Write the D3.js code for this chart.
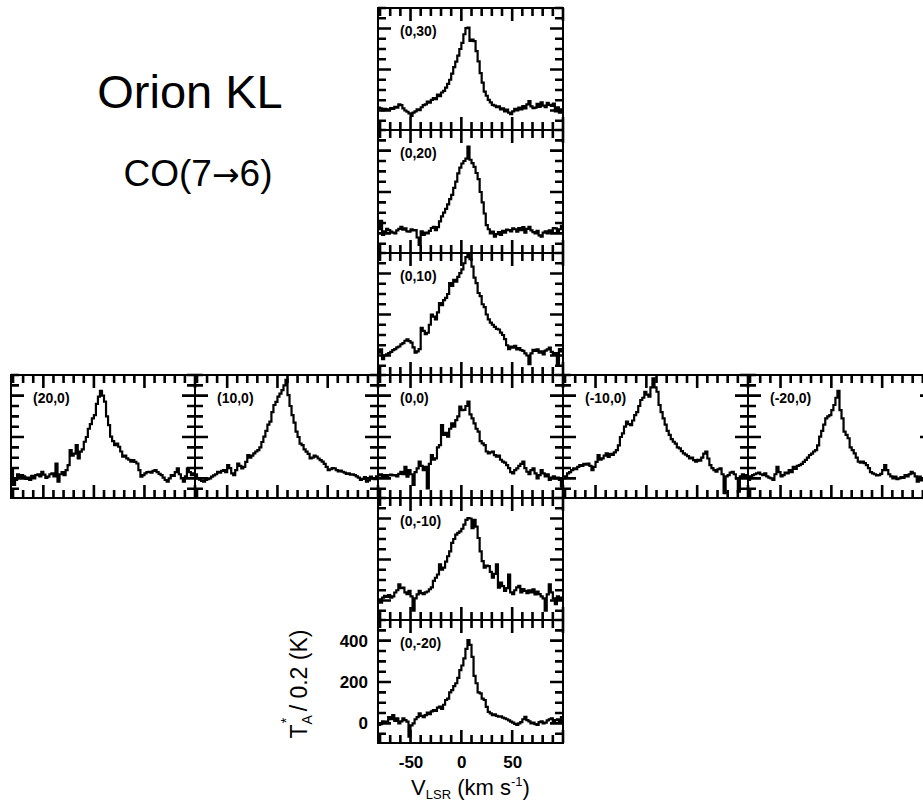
<!DOCTYPE html>
<html>
<head>
<meta charset="utf-8">
<script src="https://cdn.jsdelivr.net/npm/d3@7"></script>
<style>
  html, body { margin: 0; background: #fff; }
  svg { display: block; }
  text { font-family: "Liberation Sans", Arial, Helvetica, sans-serif; fill: #000; }
</style>
</head>
<body>
<svg id="chart" width="923" height="803"></svg>
<script>
// LSR velocity channel centres (km/s)
const channels = [
  -81, -79, -77, -75, -73, -71, -69, -67, -65, -63,
  -61, -59, -57, -55, -53, -51, -49, -47, -45, -43,
  -41, -39, -37, -35, -33, -31, -29, -27, -25, -23,
  -21, -19, -17, -15, -13, -11, -9, -7, -5, -3,
  -1, 1, 3, 5, 7, 9, 11, 13, 15, 17,
  19, 21, 23, 25, 27, 29, 31, 33, 35, 37,
  39, 41, 43, 45, 47, 49, 51, 53, 55, 57,
  59, 61, 63, 65, 67, 69, 71, 73, 75, 77,
  79, 81, 83, 85, 87, 89, 91, 93, 95, 97,
  99
];

// CO(7-6) antenna temperature, T_A*/0.2 (K), one spectrum per map offset
const spec_0_30 = [
  14, 10, 0, 8, 4, 6, 12, 8, 18, 14,
  30, 26, 10, 0, -6, -14, -26, -10, -4, 6,
  2, 16, 26, 30, 44, 38, 52, 60, 56, 78,
  70, 88, 96, 112, 130, 150, 180, 212, 238, 268,
  300, 330, 372, 402, 404, 340, 346, 338, 290, 240,
  182, 136, 92, 72, 52, 40, 28, 24, 16, 20,
  6, 10, -4, 4, -10, -18, -4, 8, 0, 14,
  6, 22, 10, 30, 46, 20, 12, 14, 32, 18,
  40, 24, 16, 38, 28, 22, 34, -4, 16, -10,
  6
];
const spec_0_20 = [
  20, 60, -8, 10, 22, 16, 8, 4, 0, 14,
  22, 32, 18, 24, 10, 8, 20, 14, 16, -20,
  -56, 10, -8, 4, 0, 12, 26, 32, 16, 30,
  58, 82, 100, 118, 140, 166, 186, 220, 250, 290,
  318, 338, 350, 362, 420, 356, 340, 322, 292, 262,
  200, 150, 96, 40, 20, 0, 8, -16, -4, 6,
  -8, 12, 4, 18, 16, 10, 24, 20, 8, 26,
  16, 30, 4, 22, 32, 14, 6, 0, 12, -10,
  -16, 4, 10, 0, 14, 8, 26, 24, 6, 20,
  36
];
const spec_0_10 = [
  14, 30, -18, 0, 6, 12, 18, 26, 31, 40,
  44, 55, 60, 72, 79, 70, 63, 40, 14, 20,
  31, 135, 120, 104, 111, 150, 200, 190, 176, 210,
  256, 246, 270, 281, 300, 353, 340, 369, 360, 384,
  402, 420, 450, 480, 498, 470, 434, 380, 353, 305,
  290, 250, 236, 200, 176, 160, 150, 140, 130, 127,
  112, 100, 80, 50, 31, 44, 38, 47, 30, 36,
  26, 23, 10, 0, -42, 10, 28, 23, 30, 14,
  20, 6, 24, 30, 39, 18, 6, 12, -42, 31,
  20
];
const spec_20_0 = [
  48, -32, -8, 20, 6, 16, 10, -2, 4, -8,
  12, 0, 16, 20, 10, 32, 18, 2, 8, 20,
  24, 10, 72, -16, 20, 30, 16, 40, 64, 137,
  110, 120, 161, 97, 129, 140, 177, 200, 240, 262,
  290, 306, 360, 395, 423, 400, 371, 300, 258, 202,
  180, 161, 168, 153, 130, 105, 110, 97, 90, 81,
  88, 80, 72, 40, 8, 16, 24, 30, 32, 28,
  36, 40, 30, 22, 16, 4, -8, -16, 0, 16,
  12, 30, 48, 20, 0, -16, 10, 48, 30, 16,
  24
];
const spec_10_0 = [
  20, 0, -6, -12, -16, -8, -4, 0, 8, 14,
  20, 32, 28, 36, 40, 30, 64, 50, 24, 16,
  40, 72, 60, 48, 56, 80, 113, 100, 110, 121,
  130, 137, 150, 176, 202, 230, 260, 274, 320, 355,
  370, 395, 410, 427, 450, 476, 403, 350, 306, 270,
  226, 200, 168, 161, 140, 129, 118, 97, 100, 110,
  105, 96, 88, 81, 70, 56, 40, 44, 50, 48,
  40, 34, 38, 32, 28, 22, 24, 18, 20, 16,
  10, 4, -8, -2, 6, -16, -10, 8, 0, -4,
  10
];
const spec_0_0 = [
  14, 20, 8, 16, 12, 16, 18, 14, 16, 10,
  22, 32, 20, 56, 8, 40, 20, -32, 30, 48,
  81, 60, 40, 56, -48, 70, 113, 90, 97, 150,
  161, 258, 210, 220, 202, 240, 266, 250, 282, 300,
  347, 330, 331, 350, 371, 310, 290, 266, 240, 226,
  180, 169, 161, 130, 121, 126, 129, 112, 105, 110,
  90, 81, 76, 64, 50, 30, 24, 40, 48, 60,
  70, 81, 50, 32, 20, 40, 48, 24, 0, 16,
  40, 24, 10, 20, -8, 4, 10, 0, 4, -8,
  -40
];
const spec_m10_0 = [
  0, 10, 24, 30, 40, 48, 44, 56, 64, 60,
  70, 66, 72, 60, 40, 56, 80, 113, 90, 97,
  110, 121, 104, 118, 113, 126, 137, 160, 200, 218,
  250, 274, 262, 258, 280, 306, 320, 350, 379, 390,
  419, 405, 395, 440, 484, 440, 419, 355, 320, 290,
  260, 230, 210, 190, 177, 168, 150, 145, 132, 121,
  115, 108, 97, 100, 88, 81, 90, 86, 100, 120,
  129, 96, 64, 50, 40, 32, 44, 48, 20, -72,
  10, 16, 28, 32, 20, 0, -64, 10, 20, 8,
  16
];
const spec_m20_0 = [
  -8, 10, 16, 20, 24, 28, 20, 16, 24, 10,
  4, 0, -8, 20, 56, 30, 10, 16, 28, 24,
  40, 30, 56, 46, 60, 64, 70, 80, 89, 100,
  113, 120, 130, 137, 160, 202, 230, 260, 290, 300,
  306, 330, 355, 390, 423, 330, 290, 226, 210, 194,
  150, 137, 121, 100, 81, 76, 81, 74, 64, 50,
  30, 24, 20, 14, 16, 22, 40, 64, 40, 20,
  10, 0, 8, -4, 0, 6, 2, 16, 10, 20,
  32, 24, 10, -16, 8, -10, 0, 6, -4, 10,
  4
];
const spec_0_m10 = [
  6, -10, 14, 23, 18, 26, 14, 20, 39, 50,
  79, 60, 63, 40, 31, 47, 20, -50, 10, 30,
  47, 36, 31, 40, 44, 55, 64, 96, 111, 127,
  176, 150, 160, 190, 216, 240, 281, 300, 321, 330,
  337, 350, 370, 393, 402, 400, 353, 393, 360, 305,
  240, 192, 160, 170, 168, 140, 111, 130, 176, 63,
  87, 70, 47, 60, 127, 40, 31, 50, 64, 71,
  40, 56, 47, 36, 50, 40, 55, 30, 44, 31,
  20, 10, -50, 30, 79, 40, 10, -18, 20, 6,
  14
];
const spec_0_m20 = [
  -8, -4, 10, 2, 8, 30, 20, 40, 12, 24,
  0, 10, 24, 16, 8, -64, -10, 0, 20, 30,
  48, 36, 30, 40, 52, 44, 58, 64, 60, 76,
  81, 70, 90, 113, 120, 150, 161, 180, 194, 220,
  258, 280, 314, 360, 403, 380, 322, 230, 194, 150,
  145, 120, 113, 80, 56, 48, 40, 44, 36, 32,
  34, 28, 24, 20, 14, 8, 4, -2, -8, 0,
  6, 20, 32, 16, 10, 0, 4, -4, -8, 6,
  10, 0, 4, 14, 20, 24, 10, 16, 20, 6,
  30
];

// Map offsets (arcsec) labelling each spectrum
const offsetLabels = ["(0,30)", "(0,20)", "(0,10)", "(20,0)", "(10,0)", "(0,0)",
                      "(-10,0)", "(-20,0)", "(0,-10)", "(0,-20)"];
const xTickLabels = [-50, 0, 50];
const yTickLabels = [0, 200, 400];

// Axis ranges shared by every panel
const velocityDomain = [-82, 100];
const intensityDomain = [-95, 500];

// Panel grid: a cross of five columns and six rows
const colLeft = [11, 195, 378, 563, 748];
const colWidth = [184, 183, 185, 185, 185];
const rowTop = [8, 130, 253, 375, 498, 620];
const rowHeight = [122, 123, 122, 123, 122, 123];

const panels = [
  { label: offsetLabels[0], col: 2, row: 0, values: spec_0_30 },
  { label: offsetLabels[1], col: 2, row: 1, values: spec_0_20 },
  { label: offsetLabels[2], col: 2, row: 2, values: spec_0_10 },
  { label: offsetLabels[3], col: 0, row: 3, values: spec_20_0 },
  { label: offsetLabels[4], col: 1, row: 3, values: spec_10_0 },
  { label: offsetLabels[5], col: 2, row: 3, values: spec_0_0 },
  { label: offsetLabels[6], col: 3, row: 3, values: spec_m10_0 },
  { label: offsetLabels[7], col: 4, row: 3, values: spec_m20_0 },
  { label: offsetLabels[8], col: 2, row: 4, values: spec_0_m10 },
  { label: offsetLabels[9], col: 2, row: 5, values: spec_0_m20, labelled: true }
];

const svg = d3.select("#chart");
const defs = svg.append("defs");

const minorLen = 8, majorLen = 13;
const xTicks = d3.range(-80, 101, 10);
const yTicks = d3.range(-50, 501, 50);
const tickLen = (v, step) => (Math.abs(v) % step === 0 ? majorLen : minorLen);

panels.forEach((p, i) => {
  const w = colWidth[p.col], h = rowHeight[p.row];
  const x = d3.scaleLinear().domain(velocityDomain).range([0, w]);
  const y = d3.scaleLinear().domain(intensityDomain).range([h, 0]);
  const g = svg.append("g").attr("transform", `translate(${colLeft[p.col]},${rowTop[p.row]})`);

  const clipId = "clip" + i;
  defs.append("clipPath").attr("id", clipId)
    .append("rect").attr("width", w).attr("height", h);

  // spectrum as a histogram-style step line
  const pts = channels.map((v, k) => [v, p.values[k]]);
  const line = d3.line()
    .x(d => x(d[0]))
    .y(d => y(d[1]))
    .curve(d3.curveStep);
  g.append("path")
    .datum(pts)
    .attr("clip-path", `url(#${clipId})`)
    .attr("d", line)
    .attr("fill", "none")
    .attr("stroke", "#000")
    .attr("stroke-width", 2.2)
    .attr("stroke-linejoin", "miter");

  // inward ticks on all four sides, drawn as one path
  const segs = [];
  xTicks.forEach(v => {
    const px = x(v), len = tickLen(v, 50);
    segs.push(`M${px},${h}V${h - len}`, `M${px},0V${len}`);
  });
  yTicks.forEach(v => {
    const py = y(v), len = tickLen(v, 200);
    segs.push(`M0,${py}H${len}`, `M${w},${py}H${w - len}`);
  });
  g.append("path")
    .attr("d", segs.join(""))
    .attr("fill", "none")
    .attr("stroke", "#000")
    .attr("stroke-width", 2.6);

  // frame
  g.append("rect")
    .attr("width", w).attr("height", h)
    .attr("fill", "none").attr("stroke", "#000").attr("stroke-width", 2);

  // offset label
  g.append("text")
    .attr("x", 22).attr("y", 28)
    .attr("font-size", 14)
    .attr("font-weight", "bold")
    .text(p.label);

  if (p.labelled) {
    const yAx = g.append("g")
      .call(d3.axisLeft(y).tickValues(yTickLabels).tickSize(0).tickPadding(10)
        .tickFormat(d => String(d)));
    yAx.select(".domain").remove();
    yAx.selectAll("text")
      .attr("font-size", 17)
      .attr("font-weight", "bold")
      .style("font-family", '"Liberation Sans", Arial, sans-serif')
      .attr("fill", "#000");

    const xAx = g.append("g").attr("transform", `translate(0,${h})`)
      .call(d3.axisBottom(x).tickValues(xTickLabels).tickSize(0).tickPadding(13)
        .tickFormat(d => String(d)));
    xAx.select(".domain").remove();
    xAx.selectAll("text")
      .attr("font-size", 17)
      .attr("font-weight", "bold")
      .style("font-family", '"Liberation Sans", Arial, sans-serif')
      .attr("fill", "#000");

    // velocity axis title
    const xt = svg.append("text")
      .attr("x", colLeft[p.col] + x(9)).attr("y", 795)
      .attr("text-anchor", "middle")
      .attr("font-size", 22);
    xt.append("tspan").text("V");
    xt.append("tspan").attr("font-size", 13).attr("dy", 4).text("LSR");
    xt.append("tspan").attr("dy", -4).text(" (km s");
    xt.append("tspan").attr("font-size", 13).attr("dy", -9).text("-1");
    xt.append("tspan").attr("dy", 9).text(")");

    // intensity axis title
    const yt = svg.append("text")
      .attr("transform", `translate(307,${rowTop[p.row] + y(190)}) rotate(-90)`)
      .attr("text-anchor", "middle")
      .attr("font-size", 23);
    yt.append("tspan").text("T");
    yt.append("tspan").attr("font-size", 14).attr("dy", 5).text("A");
    yt.append("tspan").attr("font-size", 14).attr("dx", -8).attr("dy", -21).text("*");
    yt.append("tspan").attr("dy", 16).text(" / 0.2  (K)");
  }
});

// source and transition
svg.append("text")
  .attr("x", 190).attr("y", 108)
  .attr("text-anchor", "middle")
  .attr("font-size", 47)
  .text("Orion KL");
const sub = svg.append("text")
  .attr("x", 198).attr("y", 186)
  .attr("text-anchor", "middle")
  .attr("font-size", 37);
sub.append("tspan").text("CO(7");
sub.append("tspan").style("font-family", '"DejaVu Sans", sans-serif').attr("font-size", 33).text("\u2192");
sub.append("tspan").text("6)");
</script>
</body>
</html>
